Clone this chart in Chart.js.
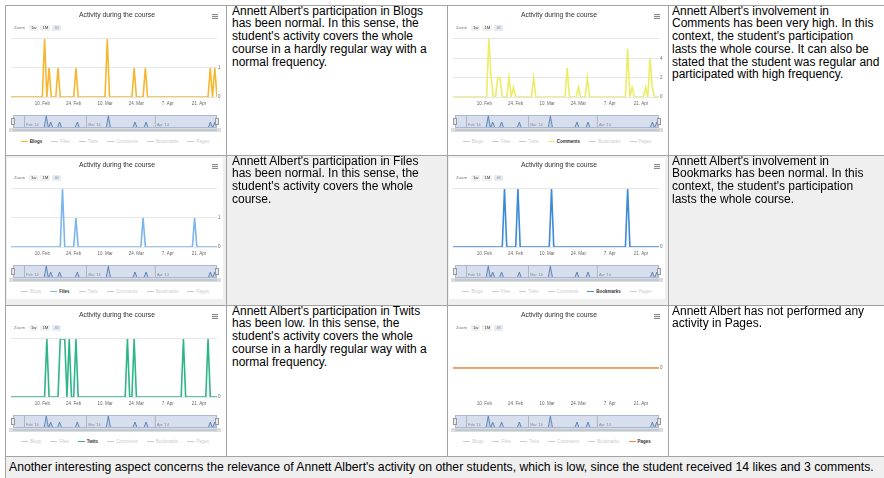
<!DOCTYPE html>
<html>
<head>
<meta charset="utf-8">
<script src="https://cdn.jsdelivr.net/npm/chart.js@4.4.1/dist/chart.umd.min.js"></script>
<style>
  body { margin: 0; width: 884px; height: 478px; overflow: hidden; background: #fff;
         font-family: "Liberation Sans", Arial, sans-serif; }
  #report { position: absolute; left: 5px; top: 5px; display: grid;
            grid-template-columns: 220px 220px 220px 220px;
            grid-template-rows: 149px 149px 150px 30px;
            gap: 1px; padding: 1px; background: #a3a3a3; }
  .cell { position: relative; background: #fff; overflow: hidden; }
  .alt { background: #efefef; }
  .txt { font-size: 12px; line-height: 12.75px; color: #000; padding: 0 7px 0 5px; }
  .txt.last { padding: 0 9px 0 3px; }
  .txt p { margin: -1.5px 0 0 0; }
  .note { grid-column: 1 / -1; font-size: 12.2px; line-height: 12.75px; padding: 4px 3px; }
  .box { position: absolute; left: 1px; top: 2px; width: 216px; height: 141px; background: #fff; }
  .box canvas { position: absolute; left: 0; }
  .box canvas.main { top: 0; }
  .box canvas.nav { top: 104px; }
  .zoom { position: absolute; left: 5px; top: 17px; font-size: 4.3px; line-height: 6px; color: #777; white-space: nowrap; }
  .zoom span { display: inline-block; padding: 0 2px; margin-right: 2px; border-radius: 1px; }
  .zoom .btn { background: #f1f1f1; color: #444; }
  .zoom .sel { background: #e6ebf5; color: #aaa; }
  .menu { position: absolute; left: 205px; top: 6px; width: 6px; height: 5px;
          background: repeating-linear-gradient(#8a8a8a 0 1px, #eee 1px 2px); }
  .legend { position: absolute; left: 0; top: 130px; width: 216px; display: flex; justify-content: center;
            gap: 9px; font-size: 4.5px; line-height: 7px; color: #ccc; white-space: nowrap; }
  .legend i { display: inline-block; width: 7px; height: 1px; background: #ccc; vertical-align: middle; margin-right: 2px; }
  .legend .on { color: #333; font-weight: bold; }
</style>
</head>
<body>
<div id="report">
  <div class="cell" id="p-blogs"></div>
  <div class="cell txt"><p>Annett Albert's participation in Blogs has been normal. In this sense, the student's activity covers the whole course in a hardly regular way with a normal frequency.</p></div>
  <div class="cell" id="p-comments"></div>
  <div class="cell txt last"><p>Annett Albert's involvement in Comments has been very high. In this context, the student's participation lasts the whole course. It can also be stated that the student was regular and participated with high frequency.</p></div>

  <div class="cell alt" id="p-files"></div>
  <div class="cell alt txt"><p>Annett Albert's participation in Files has been normal. In this sense, the student's activity covers the whole course.</p></div>
  <div class="cell alt" id="p-bookmarks"></div>
  <div class="cell alt txt last"><p>Annett Albert's involvement in Bookmarks has been normal. In this context, the student's participation lasts the whole course.</p></div>

  <div class="cell" id="p-twits"></div>
  <div class="cell txt"><p>Annett Albert's participation in Twits has been low. In this sense, the student's activity covers the whole course in a hardly regular way with a normal frequency.</p></div>
  <div class="cell" id="p-pages"></div>
  <div class="cell txt last"><p>Annett Albert has not performed any activity in Pages.</p></div>

  <div class="cell alt note">Another interesting aspect concerns the relevance of Annett Albert's activity on other students, which is low, since the student received 14 likes and 3 comments.</div>
</div>

<script>
// days are counted from 27 Jan 2014 (day 0)
const firstDay = 0;
const lastDay = 92;
const tickDays = [14, 28, 42, 56, 70, 84];
const tickLabels = ['10. Feb', '24. Feb', '10. Mar', '24. Mar', '7. Apr', '21. Apr'];
const monthDays = [5, 33, 64];
const monthLabels = ["Feb '14", "Mar '14", "Apr '14"];

const seriesNames = ['Blogs', 'Files', 'Twits', 'Comments', 'Bookmarks', 'Pages'];
const seriesColors = ['#f5b731', '#7cb5ec', '#2fb58a', '#ecec66', '#3d8ad8', '#f0883a'];

// activity per series: day of activity and number of actions on that day
const blogsDays = [15, 17, 21, 29, 43, 55, 60, 89, 91];
const blogsCounts = [2, 1, 1, 1, 2, 1, 1, 1, 1];
const commentsDays = [16, 17, 20, 21, 25, 27, 36, 51, 56, 60, 78, 80, 86, 88, 89];
const commentsCounts = [6, 2, 2, 2, 2, 1, 2, 3, 1, 2, 5, 1, 1, 4, 1];
const filesDays = [23, 29, 59, 82];
const filesCounts = [2, 1, 1, 1];
const bookmarksDays = [23, 29, 44, 78];
const bookmarksCounts = [1, 1, 1, 1];
const twitsDays = [16, 22, 23, 24, 26, 29, 52, 55, 77, 88];
const twitsCounts = [1, 1, 1, 1, 1, 1, 1, 1, 1, 1];
const pagesDays = [];
const pagesCounts = [];

// y axis ticks of each panel
const blogsTicks = [0, 1, 2];
const commentsTicks = [0, 2, 4, 6];
const filesTicks = [0, 1, 2];
const bookmarksTicks = [0, 1];
const twitsTicks = [0, 1];
const pagesTicks = [0];

Chart.defaults.font.family = '"Liberation Sans", Arial, sans-serif';

// one point per day, zero on days without activity
function daily(days, counts) {
  const pts = [];
  for (let d = firstDay; d <= lastDay; d++) {
    const i = days.indexOf(d);
    pts.push({ x: d, y: i < 0 ? 0 : counts[i] });
  }
  return pts;
}

const navigatorFrame = {
  id: 'navigatorFrame',
  beforeDatasetsDraw(chart) {
    const { ctx, chartArea: a } = chart;
    ctx.save();
    ctx.fillStyle = 'rgba(102,133,194,0.26)';
    ctx.fillRect(a.left, a.top, a.right - a.left, a.bottom - a.top);
    ctx.restore();
  },
  afterDatasetsDraw(chart) {
    const { ctx, chartArea: a } = chart;
    const x = chart.scales.x;
    ctx.save();
    ctx.strokeStyle = '#a9b7d3';
    ctx.lineWidth = 1;
    ctx.strokeRect(a.left + 0.5, a.top + 0.5, a.right - a.left - 1, a.bottom - a.top - 1);
    // month labels inside the navigator
    ctx.fillStyle = '#8a8a8a';
    ctx.font = '3.8px "Liberation Sans", Arial, sans-serif';
    ctx.textBaseline = 'bottom';
    monthDays.forEach((d, i) => {
      const px = x.getPixelForValue(d);
      ctx.fillRect(px, a.top + 1, 0.5, a.bottom - a.top - 2);
      ctx.fillText(monthLabels[i], px + 2, a.bottom - 1.5);
    });
    // handles
    ctx.fillStyle = '#ebe7e8';
    ctx.strokeStyle = '#999';
    [a.left, a.right].forEach(px => {
      ctx.fillRect(px - 2, a.top + 3, 4, 7);
      ctx.strokeRect(px - 2 + 0.5, a.top + 3.5, 3, 6);
    });
    // scrollbar
    ctx.fillStyle = '#eeeeee';
    ctx.fillRect(a.left - 4, a.bottom, a.right - a.left + 8, 4);
    ctx.fillStyle = '#c3c9d1';
    ctx.fillRect(a.left, a.bottom + 0.5, a.right - a.left, 3);
    ctx.fillStyle = '#dcdcdc';
    ctx.fillRect(a.left - 4, a.bottom, 4, 4);
    ctx.fillRect(a.right, a.bottom, 4, 4);
    ctx.restore();
  }
};

function buildPanel(id, name, days, counts, yTicks, yMin) {
  const idx = seriesNames.indexOf(name);
  const color = seriesColors[idx];
  const yMax = yTicks.length > 1 ? yTicks[yTicks.length - 1] : 1;
  const box = document.createElement('div');
  box.className = 'box';
  box.innerHTML =
    '<canvas class="main" width="216" height="100"></canvas>' +
    '<div class="zoom"><span>Zoom</span><span class="btn">1w</span><span class="btn">1M</span><span class="sel">All</span></div>' +
    '<div class="menu"></div>' +
    '<canvas class="nav" width="216" height="23"></canvas>' +
    '<div class="legend">' + seriesNames.map((n, i) =>
      '<span class="' + (i === idx ? 'on' : '') + '"><i style="' + (i === idx ? 'background:' + color : '') + '"></i>' + n + '</span>'
    ).join('') + '</div>';
  document.getElementById(id).appendChild(box);

  new Chart(box.querySelector('canvas.main'), {
    type: 'line',
    data: {
      datasets: [{
        label: name,
        data: daily(days, counts),
        borderColor: color,
        borderWidth: 1.6,
        pointRadius: 0,
        tension: 0,
        fill: false
      }]
    },
    options: {
      responsive: false,
      animation: false,
      devicePixelRatio: 1,
      layout: { padding: { left: 4, right: 0, top: 0, bottom: 0 } },
      plugins: {
        legend: { display: false },
        tooltip: { enabled: false },
        title: {
          display: true,
          text: 'Activity during the course',
          color: '#333',
          font: { size: 6.8, weight: 'normal' },
          padding: { top: 3, bottom: 19.8 }
        }
      },
      scales: {
        x: {
          type: 'linear',
          min: firstDay,
          max: lastDay,
          grid: { display: false, drawTicks: false },
          border: { display: false },
          afterBuildTicks: s => { s.ticks = tickDays.map(v => ({ value: v })); },
          afterFit: s => { s.height = 11; },
          ticks: {
            autoSkip: false,
            maxRotation: 0,
            padding: 4,
            color: '#666',
            font: { size: 4.5 },
            callback: v => tickLabels[tickDays.indexOf(v)]
          }
        },
        y: {
          position: 'right',
          min: yMin,
          max: yMax,
          grid: { color: '#e6e6e6', drawTicks: false },
          border: { display: false },
          afterBuildTicks: s => { s.ticks = yTicks.map(v => ({ value: v })); },
          afterFit: s => { s.width = 6; },
          ticks: {
            padding: 1,
            color: '#666',
            font: { size: 4.5 },
            callback: v => (v === yMax ? '' : v)
          }
        }
      }
    }
  });

  // navigator shows the first series of the chart
  new Chart(box.querySelector('canvas.nav'), {
    type: 'line',
    data: {
      datasets: [{
        data: daily(blogsDays, blogsCounts),
        borderColor: '#4572a7',
        borderWidth: 0.8,
        backgroundColor: 'rgba(69,114,167,0.12)',
        fill: 'origin',
        pointRadius: 0,
        tension: 0
      }]
    },
    options: {
      responsive: false,
      animation: false,
      devicePixelRatio: 1,
      layout: { padding: { left: 6, right: 6, top: 3, bottom: 7 } },
      plugins: { legend: { display: false }, tooltip: { enabled: false } },
      scales: {
        x: { type: 'linear', display: false, min: firstDay, max: lastDay },
        y: { display: false, min: 0, max: 2.2 }
      }
    },
    plugins: [navigatorFrame]
  });
}

buildPanel('p-blogs', 'Blogs', blogsDays, blogsCounts, blogsTicks, 0);
buildPanel('p-comments', 'Comments', commentsDays, commentsCounts, commentsTicks, 0);
buildPanel('p-files', 'Files', filesDays, filesCounts, filesTicks, 0);
buildPanel('p-bookmarks', 'Bookmarks', bookmarksDays, bookmarksCounts, bookmarksTicks, 0);
buildPanel('p-twits', 'Twits', twitsDays, twitsCounts, twitsTicks, 0);
buildPanel('p-pages', 'Pages', pagesDays, pagesCounts, pagesTicks, -1);
</script>
</body>
</html>
